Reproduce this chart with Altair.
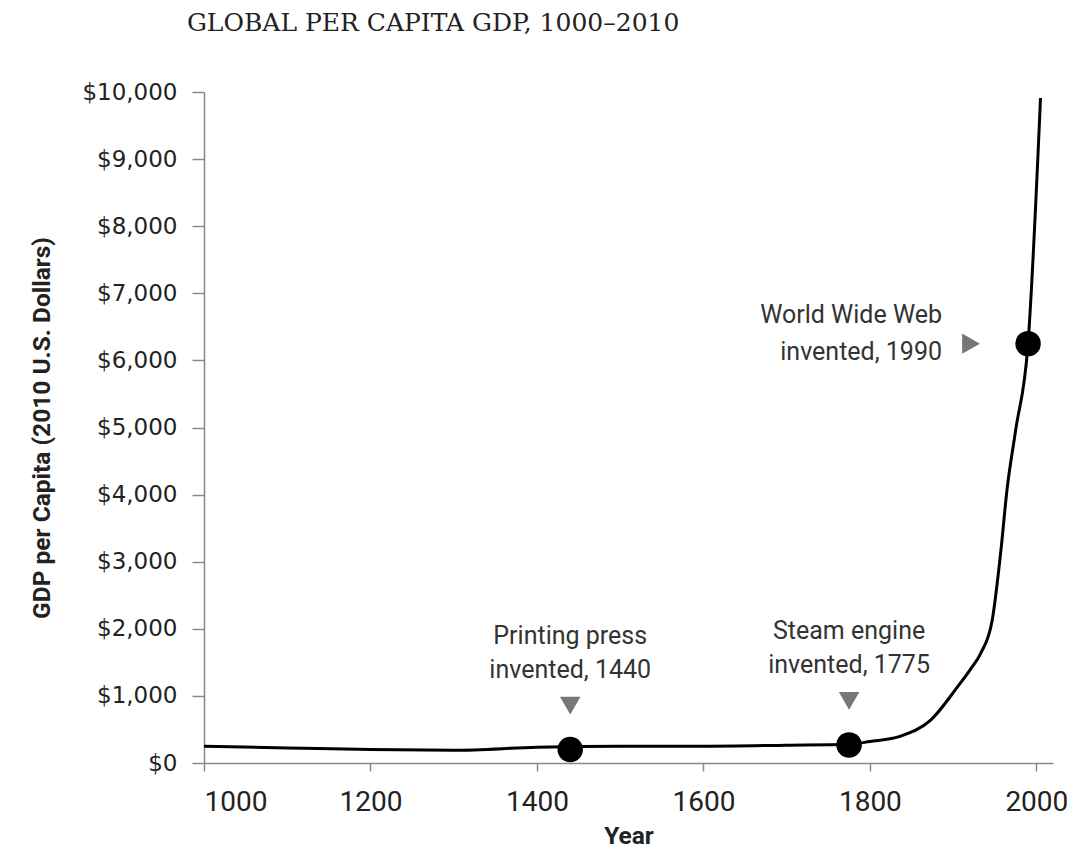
import altair as alt
import pandas as pd

# GDP per capita curve
years = [1000, 1100, 1200, 1300, 1400, 1500, 1600, 1700, 1775, 1800, 1837, 1873, 1905, 1921, 1933, 1947, 1957, 1965, 1975, 1990, 2005]
gdp = [250, 225, 200, 190, 235, 250, 250, 265, 280, 320, 400, 640, 1130, 1400, 1630, 2130, 3120, 4100, 4950, 6250, 9910]

# Events
ev_years = [1440, 1775, 1990]
ev_values = [200, 270, 6250]
ev_labels = [["Printing press", "invented, 1440"], ["Steam engine", "invented, 1775"], ["World Wide Web", "invented, 1990"]]

line_df = pd.DataFrame({"year": years, "gdp": gdp})
ev_df = pd.DataFrame({"year": ev_years, "gdp": ev_values, "label": ev_labels})

x_scale = alt.Scale(domain=[1000, 2020], nice=False, zero=False)
y_scale = alt.Scale(domain=[0, 10000], nice=False)

narrow = "Roboto"

line = alt.Chart(line_df).mark_line(color="black", strokeWidth=3, interpolate="monotone").encode(
    x=alt.X("year:Q", scale=x_scale, title="Year",
            axis=alt.Axis(values=[1000, 1200, 1400, 1600, 1800, 2000], format="d")),
    y=alt.Y("gdp:Q", scale=y_scale, title="GDP per Capita (2010 U.S. Dollars)",
            axis=alt.Axis(values=list(range(0, 10001, 1000)), format="$,d")),
)

dots = alt.Chart(ev_df).mark_point(filled=True, color="black", opacity=1, size=650, shape="circle").encode(
    x="year:Q", y="gdp:Q"
)

down_df = ev_df[ev_df["year"] < 1900]
right_df = ev_df[ev_df["year"] > 1900]

tri_down = alt.Chart(down_df).mark_point(filled=True, color="#777777", opacity=1, size=420,
                                         shape="triangle-down", yOffset=-44).encode(x="year:Q", y="gdp:Q")
tri_right = alt.Chart(right_df).mark_point(filled=True, color="#777777", opacity=1, size=420,
                                           shape="triangle-right", xOffset=-57).encode(x="year:Q", y="gdp:Q")

txt_down = alt.Chart(down_df).mark_text(font=narrow, fontSize=25, color="#333333", align="center",
                                        baseline="bottom", dy=-101, lineHeight=34).encode(
    x="year:Q", y="gdp:Q", text="label")
txt_right = alt.Chart(right_df).mark_text(font=narrow, fontSize=25, color="#333333", align="right",
                                          baseline="middle", dx=-86, dy=-29, lineHeight=37).encode(
    x="year:Q", y="gdp:Q", text="label")

chart = alt.layer(line, dots, tri_down, tri_right, txt_down, txt_right).properties(
    width=849, height=671,
    padding={"left": 21, "top": 3, "right": 10, "bottom": 5},
    title=alt.TitleParams("GLOBAL PER CAPITA GDP, 1000–2010", anchor="start", fontSize=25,
                          font="DejaVu Serif", fontWeight="normal",
                          color="#222222", dx=157, offset=45),
).configure_view(stroke=None).configure_axis(
    grid=False, domainColor="#888888", tickColor="#888888", domainWidth=1.5, tickWidth=1.5,
    titleFont=narrow, titleFontWeight="bold", titleFontSize=24.5, titleColor="#222222",
).configure_axisY(
    labelFont="DejaVu Sans", labelFontSize=23, labelFontWeight="normal", labelColor="#222222",
    tickSize=12, labelPadding=15, titlePadding=27,
).configure_axisX(
    labelFont=narrow, labelFontSize=28, labelColor="#222222", tickSize=8, labelPadding=17,
    titlePadding=8,
)

chart.save("out.html", embed_options={"renderer": "svg", "actions": False})
